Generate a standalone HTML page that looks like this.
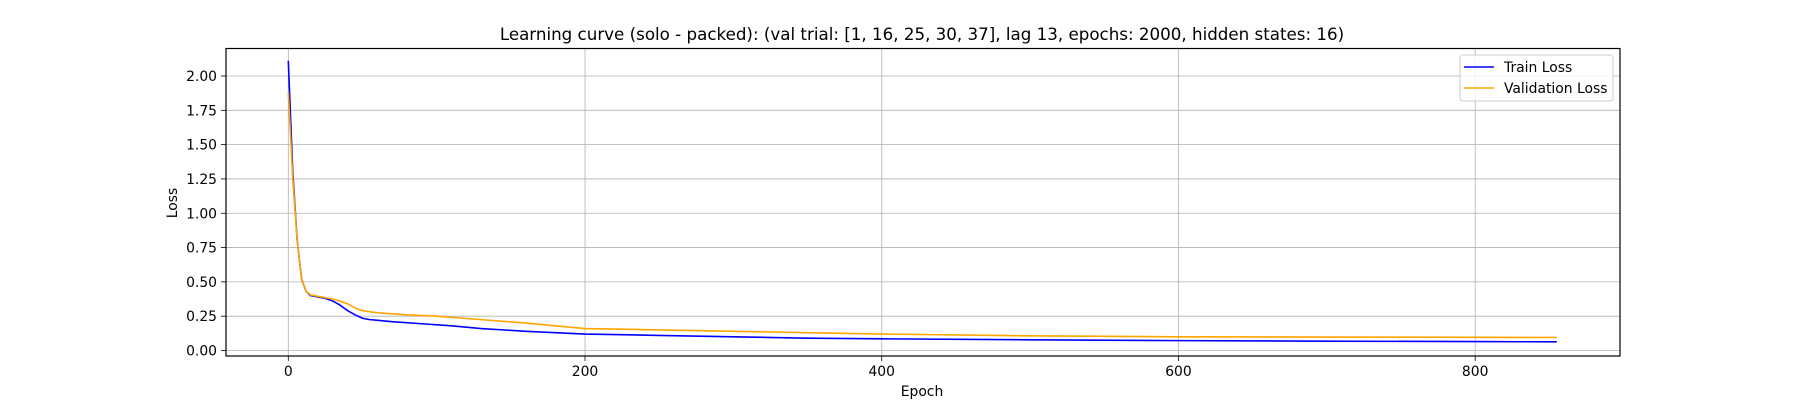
<!DOCTYPE html>
<html><head><meta charset="utf-8"><style>
body{margin:0;background:#fff}
svg{display:block;font-family:"DejaVu Sans","Liberation Sans",sans-serif}
</style></head><body>
<svg id="chart" width="1800" height="400" viewBox="0 0 1800 400">
<text x="922" y="40" text-anchor="middle" font-size="16.7" fill="#000">Learning curve (solo - packed): (val trial: [1, 16, 25, 30, 37], lag 13, epochs: 2000, hidden states: 16)</text>
<g id="grid"></g>
<g id="series"></g>
<rect x="226" y="48.5" width="1394" height="307.5" fill="none" stroke="#000" stroke-width="1.2"/>
<g id="ticks"></g>
<text x="922" y="396" text-anchor="middle" font-size="13.9">Epoch</text>
<text transform="translate(177,203) rotate(-90)" text-anchor="middle" font-size="13.9">Loss</text>
<g>
<rect x="1460" y="55" width="153" height="46" rx="3" fill="#fff" fill-opacity="0.8" stroke="#ccc"/>
<line x1="1464" y1="67" x2="1494" y2="67" stroke="#0000ff" stroke-width="1.6"/>
<text x="1504" y="72" font-size="13.9">Train Loss</text>
<line x1="1464" y1="88" x2="1494" y2="88" stroke="#ffa500" stroke-width="1.6"/>
<text x="1504" y="93" font-size="13.9">Validation Loss</text>
</g>
</svg>
<script>
const xTicks=[0,200,400,600,800];
const yTicks=[0,0.25,0.5,0.75,1.0,1.25,1.5,1.75,2.0];
const trainEpochs=[0,3,6,9,12,15,20,25,30,35,40,45,50,55,70,90,110,130,160,200,250,300,350,400,500,600,700,800,855];
const trainLoss=[2.11,1.30,0.80,0.52,0.43,0.40,0.39,0.38,0.36,0.33,0.29,0.26,0.235,0.225,0.21,0.195,0.18,0.16,0.14,0.12,0.11,0.10,0.09,0.085,0.078,0.072,0.068,0.065,0.063];
const valEpochs=[0,3,6,9,12,15,20,25,30,35,40,45,50,60,80,100,130,160,200,250,300,350,400,500,600,700,800,855];
const valLoss=[1.88,1.25,0.80,0.52,0.43,0.405,0.395,0.385,0.375,0.36,0.34,0.31,0.29,0.275,0.26,0.25,0.225,0.20,0.16,0.15,0.14,0.13,0.12,0.107,0.10,0.098,0.096,0.095];
const NS="http://www.w3.org/2000/svg";
const X=e=>288.3+e*1.4836;
const Y=v=>350.5-v*137.25;
const grid=document.getElementById('grid'),ticks=document.getElementById('ticks'),series=document.getElementById('series');
function mk(tag,attrs,parent){const el=document.createElementNS(NS,tag);for(const k in attrs)el.setAttribute(k,attrs[k]);parent.appendChild(el);return el;}
xTicks.forEach(t=>{
  const g=mk('line',{x1:X(t),x2:X(t),y1:48.5,y2:356,stroke:'#b0b0b0','stroke-width':0.8},grid);
  
  
  mk('line',{x1:X(t),x2:X(t),y1:356,y2:361,stroke:'#000','stroke-width':0.8},ticks);
  const tx=mk('text',{x:X(t),y:376,'text-anchor':'middle','font-size':13.9},ticks);
  tx.textContent=t;
  
  
});
yTicks.forEach(t=>{
  const g=mk('line',{x1:226,x2:1620,y1:Y(t),y2:Y(t),stroke:'#b0b0b0','stroke-width':0.8},grid);
  
  
  mk('line',{x1:221,x2:226,y1:Y(t),y2:Y(t),stroke:'#000','stroke-width':0.8},ticks);
  const tx=mk('text',{x:217,y:Y(t)+5,'text-anchor':'end','font-size':13.9},ticks);
  tx.textContent=t.toFixed(2);
  
  
});
function line(ep,vals,color,name){
  const p=mk('polyline',{points:ep.map((e,i)=>X(e)+','+Y(vals[i])).join(' '),fill:'none',stroke:color,'stroke-width':1.6,'stroke-linejoin':'round'},series);
  
  
}
line(trainEpochs,trainLoss,'#0000ff','train-loss-line');
line(valEpochs,valLoss,'#ffa500','validation-loss-line');
</script>
</body></html>
